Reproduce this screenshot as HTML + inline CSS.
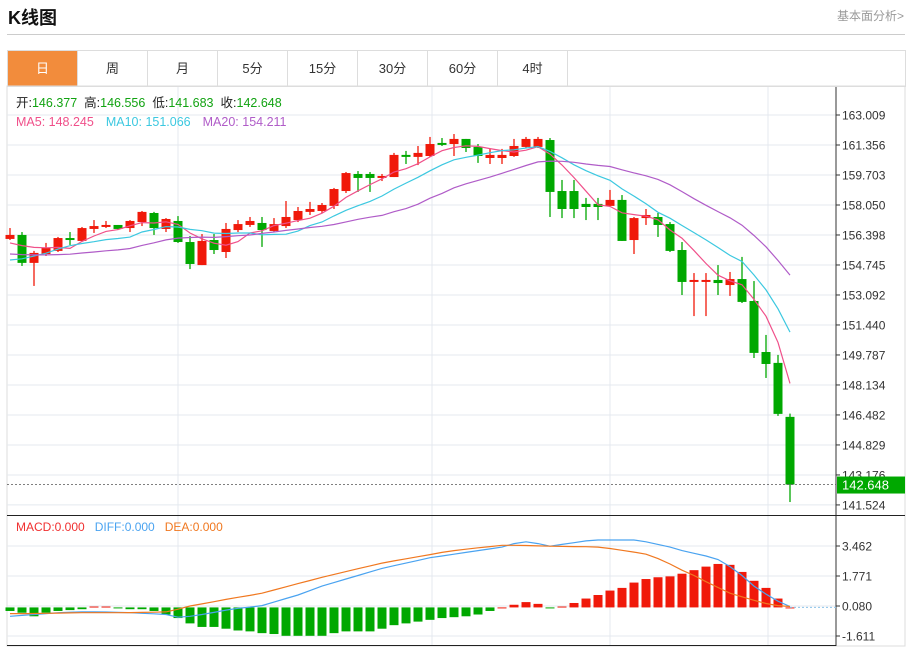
<!DOCTYPE html>
<html><head><meta charset="utf-8"><style>
body{margin:0;background:#fff;width:910px;height:650px;overflow:hidden;font-family:"Liberation Sans","Noto Sans CJK SC",sans-serif}
#wrap{position:relative;width:910px;height:650px}
.title{position:absolute;left:8px;top:4px;font-size:18px;font-weight:bold;color:#111}
.more{position:absolute;right:6px;top:7px;font-size:12px;color:#999}
.hr{position:absolute;left:7px;top:34px;width:898px;height:1px;background:#ccc}
.tabs{position:absolute;left:7px;top:50px;width:897px;height:35px;border:1px solid #ddd;display:flex}
.tab{width:69px;border-right:1px solid #ddd;text-align:center;line-height:35px;font-size:13px;color:#333}
.tab.on{background:#f28c3c;color:#fff}
svg{position:absolute;left:0;top:0}
</style></head><body><div id="wrap">
<div class="title">K线图</div>
<div class="more">基本面分析&gt;</div>
<div class="hr"></div>
<div class="tabs">
<div class="tab on">日</div>
<div class="tab">周</div>
<div class="tab">月</div>
<div class="tab">5分</div>
<div class="tab">15分</div>
<div class="tab">30分</div>
<div class="tab">60分</div>
<div class="tab">4时</div>
</div>
<svg id="chart" width="910" height="650"></svg>
</div>
<script>
const prevCloses=[155.5,155.8,155.6,155.9,155.7,155.5,155.8,155.6,155.7,155.7,154.2,153.9,154.1,154.0,154.2,155.6,155.9,155.8,156.1];
const opens=[156.18,156.40,154.86,155.35,155.52,156.23,156.07,156.73,156.84,156.95,156.78,157.11,157.61,156.73,157.17,156.01,154.74,156.12,155.46,156.67,156.95,157.06,156.62,156.89,157.22,157.67,157.72,158.00,158.82,159.76,159.76,159.54,159.59,160.81,160.70,160.75,161.47,161.41,161.69,161.25,160.64,160.64,160.75,161.25,161.25,161.63,158.82,158.82,158.11,158.11,158.00,158.33,156.12,157.33,157.39,157.00,155.57,153.81,153.81,153.92,153.64,153.97,152.76,149.95,149.35,146.377];
const closes=[156.40,154.86,155.41,155.68,156.23,156.12,156.78,156.89,156.95,156.73,157.17,157.67,156.78,157.28,156.01,154.80,156.07,155.57,156.73,157.00,157.17,156.67,157.00,157.39,157.72,157.83,158.05,158.93,159.81,159.54,159.54,159.65,160.81,160.70,160.92,161.41,161.36,161.69,161.19,160.75,160.81,160.81,161.30,161.69,161.69,158.77,157.83,157.83,157.94,157.94,158.33,156.07,157.33,157.50,156.95,155.52,153.81,153.92,153.92,153.75,153.97,152.71,149.90,149.29,146.54,142.648];
const highs=[156.78,156.56,155.52,155.96,156.29,156.56,156.84,157.22,157.17,156.95,157.22,157.72,157.67,157.33,157.44,156.34,156.45,156.45,157.06,157.22,157.39,157.39,157.33,158.27,157.94,158.22,158.16,158.99,159.87,159.92,159.87,159.76,160.92,161.03,161.30,161.80,161.74,161.96,161.69,161.41,161.14,161.14,161.69,161.80,161.80,161.74,159.43,159.43,158.44,158.44,158.88,158.60,157.39,157.83,157.61,157.11,156.01,154.30,154.30,154.74,154.36,155.19,153.86,150.89,149.79,146.556];
const lows=[156.12,154.69,153.59,155.24,155.46,155.85,156.07,156.51,156.78,156.67,156.56,156.89,156.40,156.56,155.96,154.52,154.74,155.35,155.13,156.56,156.84,155.74,156.56,156.78,157.11,157.50,157.61,157.83,158.71,158.77,158.77,159.37,159.59,160.31,160.25,160.70,161.30,160.75,160.97,160.37,160.31,160.31,160.70,161.19,161.19,157.39,157.33,157.33,157.22,157.22,157.94,156.07,155.35,156.95,156.29,155.46,153.09,151.93,151.93,153.09,153.04,152.65,149.62,148.52,146.43,141.683];
const priceTicks=["163.009","161.356","159.703","158.050","156.398","154.745","153.092","151.440","149.787","148.134","146.482","144.829","143.176","141.524"];
const macdHist=[-0.2,-0.3,-0.5,-0.3,-0.2,-0.15,-0.1,0.05,0.05,-0.05,-0.1,-0.1,-0.2,-0.4,-0.6,-0.9,-1.1,-1.1,-1.2,-1.3,-1.35,-1.45,-1.5,-1.6,-1.6,-1.6,-1.6,-1.45,-1.35,-1.35,-1.35,-1.2,-1.0,-0.9,-0.8,-0.7,-0.6,-0.55,-0.5,-0.4,-0.2,0.0,0.15,0.3,0.2,-0.05,0.05,0.25,0.5,0.7,0.95,1.1,1.4,1.6,1.7,1.75,1.9,2.1,2.3,2.45,2.4,2.0,1.5,1.1,0.5,0.0];
const diffVals=[-0.5,-0.45,-0.4,-0.35,-0.3,-0.27,-0.25,-0.25,-0.26,-0.28,-0.3,-0.33,-0.36,-0.4,-0.55,-0.5,-0.4,-0.28,-0.15,-0.05,0.02,0.1,0.3,0.5,0.7,0.95,1.2,1.4,1.6,1.8,2.0,2.2,2.35,2.5,2.65,2.8,2.9,3.0,3.1,3.2,3.3,3.4,3.6,3.7,3.6,3.45,3.55,3.65,3.75,3.8,3.8,3.8,3.8,3.7,3.55,3.4,3.2,3.05,2.9,2.7,2.3,1.8,1.2,0.75,0.35,0.05];
const deaVals=[-0.35,-0.35,-0.34,-0.33,-0.32,-0.31,-0.3,-0.3,-0.3,-0.3,-0.29,-0.28,-0.27,-0.25,-0.1,0.08,0.2,0.32,0.45,0.57,0.68,0.8,0.98,1.16,1.34,1.52,1.7,1.86,2.02,2.18,2.34,2.5,2.62,2.74,2.86,2.98,3.1,3.2,3.28,3.36,3.43,3.5,3.5,3.49,3.47,3.45,3.44,3.43,3.42,3.4,3.32,3.22,3.12,3.0,2.75,2.45,2.1,1.8,1.45,1.12,0.8,0.6,0.4,0.22,0.1,0.05];
const macdTicks=["3.462","1.771","0.080","-1.611"];

const NS="http://www.w3.org/2000/svg",svg=document.getElementById('chart');
function el(t,a,p){const e=document.createElementNS(NS,t);for(const k in a)e.setAttribute(k,a[k]);(p||svg).appendChild(e);return e;}
const L=7,R=836;
const xs=i=>10+i*12;
const pTop=parseFloat(priceTicks[0]),pStep=pTop-parseFloat(priceTicks[1]);
const yP=v=>115+(pTop-v)/pStep*30;
const mTop=parseFloat(macdTicks[0]),mStep=mTop-parseFloat(macdTicks[1]);
const yM=v=>546+(mTop-v)/mStep*30;

// frame
el('rect',{x:L,y:86,width:898,height:560,fill:'none',stroke:'#ddd'});
// grid
priceTicks.forEach((t,k)=>{const y=yP(parseFloat(t));
 const g=el('line',{x1:L,x2:R,y1:y,y2:y,stroke:'#e4e9ef'});
 
 el('line',{x1:R,x2:R+4,y1:y,y2:y,stroke:'#333'});
 const tx=el('text',{x:842,y:y+4.5,'font-size':12,fill:'#333'});tx.textContent=t;
 
});
macdTicks.forEach(t=>{const y=yM(parseFloat(t));
 el('line',{x1:L,x2:R,y1:y,y2:y,stroke:'#e4e9ef'});
 el('line',{x1:R,x2:R+4,y1:y,y2:y,stroke:'#333'});
 const tx=el('text',{x:842,y:y+4.5,'font-size':12,fill:'#333'});tx.textContent=t;
 
});
[178,432,610,768].forEach(x=>{el('line',{x1:x,x2:x,y1:87,y2:645,stroke:'#e4e9ef'});});
el('line',{x1:R,x2:R,y1:87,y2:646,stroke:'#333'});
el('line',{x1:L,x2:905,y1:515.5,y2:515.5,stroke:'#222'});
el('line',{x1:L,x2:R,y1:645.5,y2:645.5,stroke:'#222'});

// candles
const RED='#f0190a',GREEN='#00a800';
closes.forEach((c,i)=>{const o=opens[i],up=c>=o,col=up?RED:GREEN,x=xs(i);
 const g=el('g',{});
 
 el('line',{x1:x,x2:x,y1:yP(highs[i]),y2:yP(lows[i]),stroke:col,'stroke-width':1.3},g);
 const t=yP(Math.max(o,c)),b=yP(Math.min(o,c));
 el('rect',{x:x-4.5,y:t,width:9,height:Math.max(b-t,1.5),fill:col},g);
});
// MAs
const all=prevCloses.concat(closes),off=prevCloses.length;
function ma(n){return closes.map((_,i)=>{let s=0;for(let k=0;k<n;k++)s+=all[off+i-k];return s/n;});}
[[5,'#f0508a','ma5-line'],[10,'#3cc8e0','ma10-line'],[20,'#b05cc8','ma20-line']].forEach(([n,c,name])=>{
 const v=ma(n);const p=el('polyline',{points:v.map((m,i)=>xs(i)+','+yP(m).toFixed(1)).join(' '),fill:'none',stroke:c,'stroke-width':1.2});
 
});
// last price
const lastY=yP(closes[closes.length-1]);
el('line',{x1:L,x2:R,y1:lastY,y2:lastY,stroke:'#555','stroke-dasharray':'2,2','stroke-width':0.8});
const box=el('rect',{x:837,y:lastY-8,width:68,height:17,fill:GREEN});

const lt=el('text',{x:842,y:lastY+5,'font-size':13,fill:'#fff'});lt.textContent=closes[closes.length-1].toFixed(3);

// MACD
const y0=yM(0);
macdHist.forEach((h,i)=>{const y=yM(h);
 const r=el('rect',{x:xs(i)-4.5,y:Math.min(y,y0),width:9,height:Math.max(Math.abs(y-y0),1),fill:h>=0?RED:GREEN});
 
});
el('line',{x1:xs(macdHist.length-1),x2:R,y1:y0,y2:y0,stroke:'#8cc4ea','stroke-dasharray':'2,2'});
[[diffVals,'#4aa3f0','diff-line'],[deaVals,'#f07820','dea-line']].forEach(([v,c,name])=>{
 const p=el('polyline',{points:v.map((m,i)=>xs(i)+','+yM(m).toFixed(1)).join(' '),fill:'none',stroke:c,'stroke-width':1.2});
 
});
</script>
<svg width="910" height="650" style="pointer-events:none">
<text x="16" y="107" font-size="12.5"><tspan fill="#222">开:</tspan><tspan fill="#12a312">146.377</tspan><tspan fill="#222" dx="7">高:</tspan><tspan fill="#12a312">146.556</tspan><tspan fill="#222" dx="7">低:</tspan><tspan fill="#12a312">141.683</tspan><tspan fill="#222" dx="7">收:</tspan><tspan fill="#12a312">142.648</tspan></text>
<text x="16" y="126" font-size="12.5"><tspan fill="#f0508a">MA5: 148.245</tspan><tspan fill="#3cc8e0" dx="12">MA10: 151.066</tspan><tspan fill="#b05cc8" dx="12">MA20: 154.211</tspan></text>
<text x="16" y="531" font-size="12"><tspan fill="#f03030">MACD:0.000</tspan><tspan fill="#4aa3f0" dx="10">DIFF:0.000</tspan><tspan fill="#f07820" dx="10">DEA:0.000</tspan></text>
</svg>
</body></html>
